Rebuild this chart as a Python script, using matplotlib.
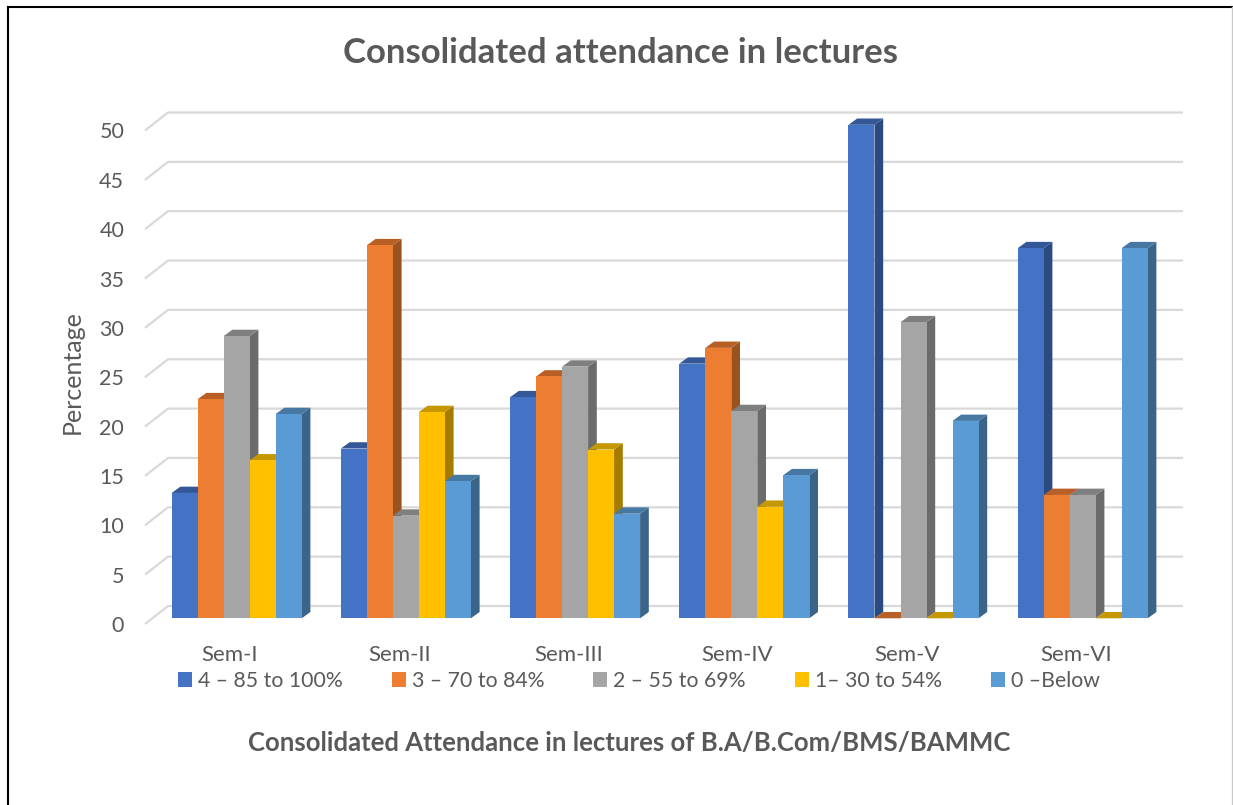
import matplotlib
matplotlib.use('Agg')
import matplotlib.pyplot as plt
from matplotlib.lines import Line2D

# Chart values
categories = ['Sem-I', 'Sem-II', 'Sem-III', 'Sem-IV', 'Sem-V', 'Sem-VI']
series_names = ['4 – 85 to 100%', '3 – 70 to 84%', '2 – 55 to 69%', '1– 30 to 54%', '0 –Below']
band_85_100 = [12.7, 17.2, 22.4, 25.8, 50, 37.5]
band_70_84 = [22.2, 37.8, 24.5, 27.4, 0, 12.5]
band_55_69 = [28.6, 10.4, 25.5, 21, 30, 12.5]
band_30_54 = [16, 20.9, 17.1, 11.3, 0, 0]
band_below = [20.7, 13.9, 10.6, 14.5, 20, 37.5]
y_ticks = list(range(0, 55, 5))

front_colors = ['#4472C4', '#ED7D31', '#A5A5A5', '#FFC000', '#5B9BD5']
side_colors = ['#2B4A80', '#9A5220', '#6B6B6B', '#A67C00', '#3A6488']
top_colors = ['#335797', '#B85F25', '#7F7F7F', '#C59700', '#4777A3']
text_color = '#595959'
grid_color = '#D9D9D9'

plt.rcParams['font.family'] = ['Lato', 'DejaVu Sans']

W, H = 1233, 805
fig = plt.figure(figsize=(W / 100, H / 100), dpi=100)

# Axes placed so that y=0 is the front edge of the floor, x=0 the first label
ax = fig.add_axes([145 / W, 1 - 624 / H, (1183 - 145) / W, (624 - 105) / H])
x_unit = 169.2
y_unit = 9.87
ax.set_xlim((145 - 230) / x_unit, (1183 - 230) / x_unit)
ax.set_ylim(0, (624 - 105) / y_unit)

# Depth of the fake 3D, in data units
wall_dx = 23 / x_unit
wall_dy = 18 / y_unit
bar_dx = 8.7 / x_unit
bar_dy = 6.3 / y_unit
bar_lift = 5.7 / y_unit
bar_w = 26 / x_unit
bar_shift = 6.7 / x_unit

# Back wall gridlines with the slanted piece on the left
x0 = ax.get_xlim()[0]
x1 = ax.get_xlim()[1]
for t in y_ticks:
    ax.plot([x0, x0 + wall_dx, x1], [t, t + wall_dy, t + wall_dy],
            color=grid_color, lw=1.6, zorder=1, clip_on=False, solid_capstyle='butt')

# Bars, left to right so each one covers the side of the one before
all_series = [band_85_100, band_70_84, band_55_69, band_30_54, band_below]
z = 2
for i in range(len(categories)):
    for s, values in enumerate(all_series):
        v = values[i]
        left = i + bar_shift + (s - 2.5) * bar_w
        right = left + bar_w
        top = bar_lift + v
        ax.fill([right, right + bar_dx, right + bar_dx, right],
                [bar_lift, bar_lift + bar_dy, top + bar_dy, top],
                color=side_colors[s], lw=0, zorder=z)
        ax.fill([left, left + bar_dx, right + bar_dx, right],
                [top, top + bar_dy, top + bar_dy, top],
                color=top_colors[s], lw=0, zorder=z)
        ax.bar(left, v, bar_w, bottom=bar_lift, align='edge',
               color=front_colors[s], lw=0, zorder=z,
               label=series_names[s] if i == 0 else None)
        z += 1

ax.set_xticks(range(len(categories)))
ax.set_xticklabels(categories)
ax.set_yticks(y_ticks)
ax.tick_params(length=0, labelcolor=text_color, labelsize=15.5)
ax.tick_params(axis='x', labelsize=16, pad=15)
ax.tick_params(axis='y', pad=15)
for side in ax.spines.values():
    side.set_visible(False)
ax.patch.set_visible(False)

ax.set_ylabel('Percentage', color=text_color, fontsize=18, va='center')
ax.yaxis.set_label_coords((72 - 145) / (1183 - 145), (624 - 372) / (624 - 105))
ax.set_xlabel('Consolidated Attendance in lectures of B.A/B.Com/BMS/BAMMC',
              color=text_color, fontsize=18.5, fontweight='bold')
ax.xaxis.set_label_coords((629 - 145) / (1183 - 145), (624 - 743) / (624 - 105))
ax.xaxis.label.set_verticalalignment('center')

fig.suptitle('Consolidated attendance in lectures', x=620.5 / W, y=1 - 53 / H,
             va='center', color=text_color, fontsize=25, fontweight='bold')

ax.legend(loc='center', bbox_to_anchor=(639 / W, 1 - 681 / H),
          bbox_transform=fig.transFigure, ncol=5, frameon=False, fontsize=15.3,
          labelcolor=text_color, handlelength=0.66, handleheight=0.66,
          handletextpad=0.28, columnspacing=2.3, borderpad=0)

# Picture frame
fig.add_artist(Line2D([7.5 / W, 7.5 / W], [0, 1 - 7.5 / H], color='black', lw=1.5))
fig.add_artist(Line2D([7.5 / W, 1], [1 - 7.5 / H, 1 - 7.5 / H], color='black', lw=1.5))
fig.add_artist(Line2D([1232 / W, 1232 / W], [0, 1 - 7.5 / H], color='#C8C8C8', lw=1))

fig.savefig('out.png', dpi=100)
